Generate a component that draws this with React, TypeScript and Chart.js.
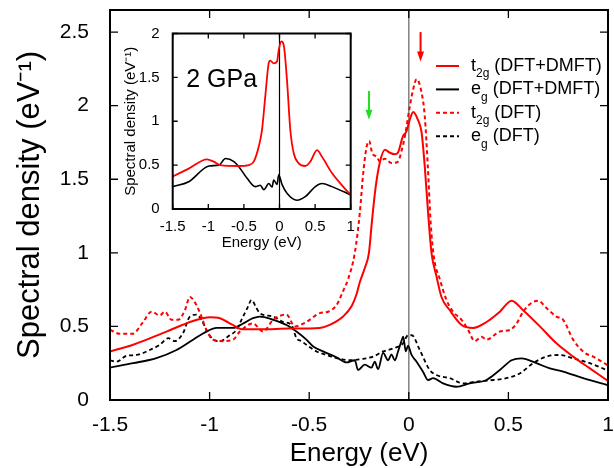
import React, { useEffect, useRef } from "react";
import { Chart, registerables } from "chart.js";

Chart.register(...registerables);

const FONT = "'Liberation Sans', Arial, Helvetica, sans-serif";

const X_TICKS = [-1.5, -1, -0.5, 0, 0.5, 1];
const Y_TICKS = [0, 0.5, 1, 1.5, 2, 2.5];
const INSET_X_TICKS = [-1.5, -1, -0.5, 0, 0.5, 1];
const INSET_Y_TICKS = [0, 0.5, 1, 1.5, 2];

type P = [number, number];

// main panel: t2g (DFT+DMFT)
const T2G_DMFT: P[] = [
  [-1.5, 0.33], [-1.384, 0.375], [-1.216, 0.465], [-1.083, 0.537], [-0.999, 0.563], [-0.949, 0.556],
  [-0.884, 0.51], [-0.833, 0.48], [-0.748, 0.48], [-0.6, 0.485], [-0.447, 0.49], [-0.397, 0.51],
  [-0.33, 0.567], [-0.286, 0.64], [-0.262, 0.72], [-0.246, 0.8], [-0.22, 0.9], [-0.2, 1.0], [-0.186, 1.2],
  [-0.168, 1.43], [-0.146, 1.61], [-0.12, 1.7], [-0.095, 1.68], [-0.07, 1.67], [-0.055, 1.68],
  [-0.03, 1.79], [-0.012, 1.825], [0.005, 1.905], [0.022, 1.957], [0.047, 1.9], [0.064, 1.82],
  [0.08, 1.59], [0.097, 1.27], [0.114, 1.0], [0.139, 0.84], [0.164, 0.7], [0.206, 0.61], [0.265, 0.51],
  [0.323, 0.49], [0.39, 0.53], [0.457, 0.6], [0.516, 0.675], [0.574, 0.61], [0.658, 0.5], [0.741, 0.385],
  [0.825, 0.295], [0.909, 0.215], [1.0, 0.13],
];

// main panel: eg (DFT+DMFT)
const EG_DMFT: P[] = [
  [-1.5, 0.22], [-1.384, 0.25], [-1.267, 0.285], [-1.166, 0.34], [-1.083, 0.41], [-1.016, 0.465],
  [-0.965, 0.49], [-0.882, 0.49], [-0.832, 0.52], [-0.782, 0.556], [-0.748, 0.567], [-0.681, 0.545],
  [-0.614, 0.51], [-0.564, 0.465], [-0.514, 0.41], [-0.48, 0.363], [-0.43, 0.33], [-0.363, 0.29],
  [-0.313, 0.255], [-0.271, 0.27], [-0.255, 0.204], [-0.221, 0.24], [-0.187, 0.22], [-0.171, 0.26],
  [-0.154, 0.21], [-0.129, 0.32], [-0.104, 0.27], [-0.087, 0.31], [-0.07, 0.27], [-0.054, 0.33],
  [-0.037, 0.4], [-0.028, 0.43], [-0.015, 0.33], [-0.004, 0.37], [0.014, 0.306], [0.039, 0.26],
  [0.072, 0.19], [0.097, 0.136], [0.122, 0.148], [0.172, 0.113], [0.239, 0.09], [0.306, 0.113],
  [0.39, 0.136], [0.457, 0.204], [0.516, 0.27], [0.566, 0.283], [0.641, 0.25], [0.708, 0.215],
  [0.775, 0.193], [0.875, 0.148], [1.0, 0.1],
];

// main panel: t2g (DFT)
const T2G_DFT: P[] = [
  [-1.5, 0.476], [-1.45, 0.45], [-1.386, 0.45], [-1.334, 0.53], [-1.292, 0.6], [-1.25, 0.575],
  [-1.225, 0.6], [-1.191, 0.545], [-1.158, 0.545], [-1.124, 0.61], [-1.099, 0.7], [-1.066, 0.645],
  [-1.041, 0.567], [-1.016, 0.476], [-0.982, 0.41], [-0.932, 0.4], [-0.882, 0.41], [-0.848, 0.465],
  [-0.782, 0.52], [-0.731, 0.465], [-0.681, 0.545], [-0.614, 0.58], [-0.572, 0.5], [-0.514, 0.53],
  [-0.447, 0.59], [-0.405, 0.6], [-0.363, 0.645], [-0.33, 0.74], [-0.305, 0.82], [-0.271, 1.0],
  [-0.246, 1.27], [-0.229, 1.54], [-0.212, 1.72], [-0.199, 1.76], [-0.182, 1.67], [-0.162, 1.655],
  [-0.146, 1.62], [-0.12, 1.64], [-0.087, 1.61], [-0.054, 1.62], [-0.037, 1.69], [-0.02, 1.79],
  [0.005, 1.995], [0.02, 2.1], [0.039, 2.18], [0.064, 2.09], [0.08, 1.93], [0.095, 1.6], [0.11, 1.2],
  [0.126, 0.97], [0.156, 0.82], [0.189, 0.68], [0.222, 0.6], [0.265, 0.545], [0.298, 0.476],
  [0.331, 0.4], [0.365, 0.43], [0.39, 0.41], [0.457, 0.465], [0.507, 0.476], [0.541, 0.52],
  [0.574, 0.6], [0.616, 0.66], [0.649, 0.675], [0.691, 0.625], [0.741, 0.567], [0.775, 0.545],
  [0.825, 0.41], [0.884, 0.32], [0.925, 0.295], [1.0, 0.235],
];

// main panel: eg (DFT)
const EG_DFT: P[] = [
  [-1.5, 0.27], [-1.467, 0.26], [-1.417, 0.3], [-1.367, 0.306], [-1.3, 0.34], [-1.25, 0.375],
  [-1.208, 0.42], [-1.175, 0.4], [-1.133, 0.455], [-1.099, 0.567], [-1.066, 0.58], [-1.041, 0.545],
  [-1.016, 0.476], [-0.982, 0.41], [-0.949, 0.4], [-0.899, 0.44], [-0.865, 0.476], [-0.84, 0.545],
  [-0.807, 0.635], [-0.79, 0.68], [-0.765, 0.625], [-0.748, 0.59], [-0.681, 0.567], [-0.631, 0.53],
  [-0.589, 0.51], [-0.564, 0.42], [-0.539, 0.4], [-0.514, 0.375], [-0.463, 0.33], [-0.413, 0.306],
  [-0.363, 0.285], [-0.296, 0.27], [-0.229, 0.28], [-0.179, 0.295], [-0.129, 0.33], [-0.079, 0.35],
  [-0.029, 0.385], [-0.004, 0.44], [0.015, 0.44], [0.055, 0.34], [0.105, 0.204], [0.139, 0.17],
  [0.206, 0.148], [0.273, 0.113], [0.34, 0.125], [0.423, 0.136], [0.49, 0.148], [0.557, 0.18],
  [0.624, 0.25], [0.691, 0.295], [0.758, 0.306], [0.825, 0.283], [0.909, 0.25], [1.0, 0.2],
];

// inset (2 GPa): t2g and eg (DFT+DMFT)
const INSET_T2G: P[] = [
  [-1.5, 0.37], [-1.275, 0.46], [-1.018, 0.565], [-0.924, 0.54], [-0.831, 0.5], [-0.573, 0.49],
  [-0.433, 0.5], [-0.362, 0.54], [-0.292, 0.71], [-0.246, 0.9], [-0.2, 1.28], [-0.152, 1.66],
  [-0.129, 1.69], [-0.081, 1.66], [-0.035, 1.68], [-0.011, 1.81], [0.025, 1.91], [0.059, 1.87],
  [0.105, 1.47], [0.152, 0.9], [0.2, 0.635], [0.27, 0.52], [0.362, 0.49], [0.433, 0.54], [0.527, 0.67],
  [0.597, 0.595], [0.737, 0.41], [0.878, 0.27], [1.0, 0.16],
];

const INSET_EG: P[] = [
  [-1.5, 0.255], [-1.275, 0.31], [-0.99, 0.49], [-0.85, 0.5], [-0.76, 0.575], [-0.64, 0.54],
  [-0.55, 0.46], [-0.455, 0.35], [-0.34, 0.255], [-0.27, 0.27], [-0.22, 0.22], [-0.15, 0.29],
  [-0.105, 0.25], [-0.081, 0.33], [-0.035, 0.28], [-0.011, 0.39], [0.035, 0.28], [0.105, 0.18],
  [0.245, 0.1], [0.362, 0.14], [0.503, 0.255], [0.597, 0.29], [0.737, 0.255], [1.0, 0.16],
];

// arrows marking peaks: [x, yFrom, yTo, colour]
const ARROWS: [number, number, number, string][] = [
  [-0.2, 2.1, 1.905, "#22dd22"],
  [0.059, 2.5, 2.3, "#ff0000"],
];

const LEGEND: { main: string; sub: string; rest: string; color: string; dash: number[] }[] = [
  { main: "t", sub: "2g", rest: " (DFT+DMFT)", color: "#ff0000", dash: [] },
  { main: "e", sub: "g", rest: " (DFT+DMFT)", color: "#000000", dash: [] },
  { main: "t", sub: "2g", rest: " (DFT)", color: "#ff0000", dash: [4, 3] },
  { main: "e", sub: "g", rest: " (DFT)", color: "#000000", dash: [4, 3] },
];

const pts = (a: P[]) => a.map(([x, y]) => ({ x, y }));

const line = (data: P[], color: string, dash: number[], width = 2) => ({
  data: pts(data),
  borderColor: color,
  borderWidth: width,
  borderDash: dash,
  pointRadius: 0,
  fill: false,
  cubicInterpolationMode: "monotone" as const,
});

const frameTicks = (id: string, len: number, xt: number[], yt: number[], frameW: number, zeroColor: string, zeroW: number) => ({
  id,
  beforeDatasetsDraw(chart: any) {
    const { ctx, chartArea: a, scales } = chart;
    const px = scales.x.getPixelForValue(0);
    ctx.save();
    ctx.strokeStyle = zeroColor;
    ctx.lineWidth = zeroW;
    ctx.beginPath();
    ctx.moveTo(px, a.top);
    ctx.lineTo(px, a.bottom);
    ctx.stroke();
    ctx.restore();
  },
  afterDatasetsDraw(chart: any) {
    const { ctx, chartArea: a, scales } = chart;
    ctx.save();
    ctx.strokeStyle = "#000";
    ctx.lineWidth = 1.3;
    ctx.beginPath();
    for (const v of xt) {
      const p = scales.x.getPixelForValue(v);
      ctx.moveTo(p, a.bottom);
      ctx.lineTo(p, a.bottom - len);
      ctx.moveTo(p, a.top);
      ctx.lineTo(p, a.top + len);
    }
    for (const v of yt) {
      const p = scales.y.getPixelForValue(v);
      ctx.moveTo(a.left, p);
      ctx.lineTo(a.left + len, p);
      ctx.moveTo(a.right, p);
      ctx.lineTo(a.right - len, p);
    }
    ctx.stroke();
    ctx.lineWidth = frameW;
    ctx.strokeRect(a.left, a.top, a.right - a.left, a.bottom - a.top);
    ctx.restore();
  },
});

const legendPlugin = {
  id: "texLegend",
  afterDraw(chart: any) {
    const { ctx, chartArea: a } = chart;
    const x1 = a.right - 172;
    const x2 = x1 + 23;
    const tx = x1 + 35;
    const y0 = 66;
    const dy = 23.4;
    ctx.save();
    LEGEND.forEach((e, i) => {
      const y = y0 + i * dy;
      ctx.strokeStyle = e.color;
      ctx.lineWidth = 2;
      ctx.setLineDash(e.dash);
      ctx.beginPath();
      ctx.moveTo(x1, y);
      ctx.lineTo(x2, y);
      ctx.stroke();
      ctx.setLineDash([]);
      ctx.fillStyle = "#000";
      ctx.textBaseline = "middle";
      ctx.textAlign = "left";
      ctx.font = `18px ${FONT}`;
      let x = tx;
      ctx.fillText(e.main, x, y);
      x += ctx.measureText(e.main).width;
      ctx.font = `12px ${FONT}`;
      ctx.fillText(e.sub, x, y + 8);
      x += ctx.measureText(e.sub).width;
      ctx.font = `18px ${FONT}`;
      ctx.fillText(e.rest, x, y);
    });
    ctx.restore();
  },
};

const arrowPlugin = {
  id: "arrows",
  afterDatasetsDraw(chart: any) {
    const { ctx, scales } = chart;
    ctx.save();
    for (const [xv, yFrom, yTo, color] of ARROWS) {
      const x = scales.x.getPixelForValue(xv);
      const y1 = scales.y.getPixelForValue(yFrom);
      const y2 = scales.y.getPixelForValue(yTo);
      ctx.strokeStyle = color;
      ctx.fillStyle = color;
      ctx.lineWidth = 2;
      ctx.beginPath();
      ctx.moveTo(x, y1);
      ctx.lineTo(x, y2 - 9);
      ctx.stroke();
      ctx.beginPath();
      ctx.moveTo(x - 3.5, y2 - 10);
      ctx.lineTo(x + 3.5, y2 - 10);
      ctx.lineTo(x, y2);
      ctx.closePath();
      ctx.fill();
    }
    ctx.restore();
  },
};

const gpaPlugin = {
  id: "gpaLabel",
  afterDraw(chart: any) {
    const { ctx, scales } = chart;
    ctx.save();
    ctx.fillStyle = "#000";
    ctx.font = `25px ${FONT}`;
    ctx.textBaseline = "middle";
    ctx.textAlign = "left";
    ctx.fillText("2 GPa", scales.x.getPixelForValue(-1.31), scales.y.getPixelForValue(1.47));
    ctx.restore();
  },
};

const fmt = (v: any) => String(v);

export default function App() {
  const mainRef = useRef<HTMLCanvasElement>(null);
  const insetRef = useRef<HTMLCanvasElement>(null);

  useEffect(() => {
    document.body.style.margin = "0";
    const main = new Chart(mainRef.current as HTMLCanvasElement, {
      type: "line",
      data: {
        datasets: [
          line(T2G_DMFT, "#ff0000", []),
          line(EG_DMFT, "#000000", [], 1.8),
          line(T2G_DFT, "#ff0000", [4, 3]),
          line(EG_DFT, "#000000", [4, 3], 1.8),
        ],
      },
      options: {
        animation: false,
        responsive: false,
        events: [],
        layout: { padding: { top: 10, right: 6, left: 0, bottom: 0 } },
        plugins: { legend: { display: false }, tooltip: { enabled: false } },
        scales: {
          x: {
            type: "linear",
            min: -1.5,
            max: 1,
            afterBuildTicks: (s: any) => {
              s.ticks = X_TICKS.map((value) => ({ value }));
            },
            afterFit: (s: any) => {
              s.height = 68;
              s.paddingLeft = 0;
              s.paddingRight = 0;
            },
            grid: { display: false },
            border: { display: false },
            ticks: { callback: fmt, font: { family: FONT, size: 21 }, color: "#000", padding: 5, maxRotation: 0, autoSkip: false },
            title: { display: true, text: "Energy (eV)", font: { family: FONT, size: 26, lineHeight: 1 }, color: "#000", padding: { top: 0, bottom: 1 } },
          },
          y: {
            type: "linear",
            min: 0,
            max: 2.65,
            afterBuildTicks: (s: any) => {
              s.ticks = Y_TICKS.map((value) => ({ value }));
            },
            afterFit: (s: any) => {
              s.width = 110;
              s.paddingTop = 0;
              s.paddingBottom = 0;
            },
            grid: { display: false },
            border: { display: false },
            ticks: { callback: fmt, font: { family: FONT, size: 21 }, color: "#000", padding: 13, autoSkip: false },
            title: { display: true, text: "Spectral density (eV⁻¹)", font: { family: FONT, size: 31, lineHeight: 1.1 }, color: "#000", padding: { top: 13, bottom: 0 } },
          },
        },
      },
      plugins: [frameTicks("mainFrame", 8, X_TICKS, Y_TICKS, 2, "#808080", 1.5), arrowPlugin, legendPlugin],
    } as any);

    const inset = new Chart(insetRef.current as HTMLCanvasElement, {
      type: "line",
      data: {
        datasets: [line(INSET_T2G, "#ff0000", [], 1.8), line(INSET_EG, "#000000", [], 1.6)],
      },
      options: {
        animation: false,
        responsive: false,
        events: [],
        layout: { padding: { top: 9.5, right: 6.3, left: 0, bottom: 0 } },
        plugins: { legend: { display: false }, tooltip: { enabled: false } },
        scales: {
          x: {
            type: "linear",
            min: -1.5,
            max: 1,
            afterBuildTicks: (s: any) => {
              s.ticks = INSET_X_TICKS.map((value) => ({ value }));
            },
            afterFit: (s: any) => {
              s.height = 51;
              s.paddingLeft = 0;
              s.paddingRight = 0;
            },
            grid: { display: false },
            border: { display: false },
            ticks: { callback: fmt, font: { family: FONT, size: 15 }, color: "#000", padding: 1, maxRotation: 0, autoSkip: false },
            title: { display: true, text: "Energy (eV)", font: { family: FONT, size: 15 }, color: "#000", padding: { top: 0, bottom: 8 } },
          },
          y: {
            type: "linear",
            min: 0,
            max: 2,
            afterBuildTicks: (s: any) => {
              s.ticks = INSET_Y_TICKS.map((value) => ({ value }));
            },
            afterFit: (s: any) => {
              s.width = 60.7;
              s.paddingTop = 0;
              s.paddingBottom = 0;
            },
            grid: { display: false },
            border: { display: false },
            ticks: { callback: fmt, font: { family: FONT, size: 15 }, color: "#000", padding: 5, autoSkip: false },
            title: { display: true, text: "Spectral density (eV⁻¹)", font: { family: FONT, size: 15 }, color: "#000", padding: { top: 10, bottom: 0 } },
          },
        },
      },
      plugins: [frameTicks("insetFrame", 5, INSET_X_TICKS, INSET_Y_TICKS, 2, "#000000", 1.2), gpaPlugin],
    } as any);

    return () => {
      main.destroy();
      inset.destroy();
    };
  }, []);

  return (
    <div style={{ position: "relative", width: 614, height: 468, background: "#fff", overflow: "hidden" }}>
      <canvas ref={mainRef} width={614} height={468} style={{ position: "absolute", left: 0, top: 0, width: 614, height: 468 }} />
      <canvas ref={insetRef} width={245} height={236} style={{ position: "absolute", left: 112, top: 24, width: 245, height: 236 }} />
    </div>
  );
}
